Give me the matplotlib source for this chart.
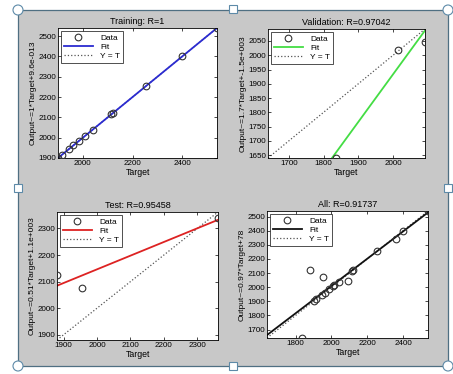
import numpy as np
import matplotlib
matplotlib.use("Agg")
import matplotlib.pyplot as plt
import matplotlib.patches as patches

plt.rcParams['font.family'] = ['Liberation Sans', 'DejaVu Sans']

# === Dati ===
train_target = [1900, 1915, 1945, 1962, 1985, 2010, 2040, 2115, 2120, 2255, 2400, 2540]
train_output = [1900, 1915, 1945, 1962, 1985, 2010, 2040, 2115, 2120, 2255, 2400, 2540]
val_target = [1835, 2015, 2092]
val_output = [1640, 2018, 2045]
test_target = [1880, 1955, 2362]
test_output = [2125, 2075, 2340]

titles = ["Training: R=1", "Validation: R=0.97042", "Test: R=0.95458", "All: R=0.91737"]
ylabels = ["Output~=1*Target+9.6e-013", "Output~=1.7*Target+-1.5e+003",
           "Output~=0.51*Target+1.1e+003", "Output~=0.97*Target+78"]
fit_colors = ["#2b2bd0", "#44dd44", "#dd2222", "#111111"]
xticks = [[2000, 2200, 2400], [1700, 1800, 1900, 2000],
          [1900, 2000, 2100, 2200, 2300], [1800, 2000, 2200, 2400]]
yticks = [list(range(1900, 2501, 100)), list(range(1650, 2051, 50)),
          list(range(1900, 2301, 100)), list(range(1700, 2501, 100))]

all_target = train_target + val_target + test_target
all_output = train_output + val_output + test_output
sets = [(train_target, train_output), (val_target, val_output),
        (test_target, test_output), (all_target, all_output)]

W, H = 453, 374
fig = plt.figure(figsize=(W / 100, H / 100), dpi=100)
fig.patch.set_facecolor("white")

# sfondo grigio con bordo (immagine selezionata nel documento)
bg = fig.add_axes([0, 0, 1, 1])
bg.set_xlim(0, W)
bg.set_ylim(H, 0)
bg.axis("off")
bg.add_patch(patches.Rectangle((18, 10), 430, 356, facecolor="#c8c8c8",
                               edgecolor="#4f6f82", linewidth=0.9))
for (hx, hy) in [(18, 10), (448, 10), (18, 366), (448, 366)]:
    bg.add_patch(patches.Circle((hx, hy), 5, facecolor="white",
                                edgecolor="#5d8aa8", linewidth=0.8, zorder=5))
for (hx, hy) in [(233, 9), (233, 366), (18, 188), (448, 188)]:
    bg.add_patch(patches.Rectangle((hx - 4, hy - 4), 8, 8, facecolor="white",
                                   edgecolor="#5d8aa8", linewidth=0.8, zorder=5))

# posizioni in pixel: left, top, right, bottom
boxes = [(58, 28, 217, 158), (268, 29, 425, 158), (57, 212, 218, 340), (267, 211, 428, 338)]

for i, ((t, o), (l, tp, r, b)) in enumerate(zip(sets, boxes)):
    ax = fig.add_axes([l / W, (H - b) / H, (r - l) / W, (b - tp) / H])
    t = np.array(t, dtype=float)
    o = np.array(o, dtype=float)
    lims = [min(t.min(), o.min()), max(t.max(), o.max())]
    coef = np.polyfit(t, o, 1)
    ax.plot(t, o, "o", mfc="none", mec="#333333", ms=4.8, mew=0.8, label="Data", zorder=3)
    ax.plot(lims, np.polyval(coef, lims), "-", color=fit_colors[i], lw=1.3, label="Fit", zorder=2)
    ax.plot(lims, lims, ":", color="#555555", lw=0.9, label="Y = T", zorder=1)
    ax.set_xlim(lims)
    ax.set_ylim(lims)
    ax.set_xticks(xticks[i])
    ax.set_yticks(yticks[i])
    ax.tick_params(direction="in", length=2, width=0.5, labelsize=5.8, pad=1.5,
                   top=True, right=True)
    for s in ax.spines.values():
        s.set_linewidth(0.6)
    ax.set_title(titles[i], fontsize=6.5, pad=3)
    ax.set_xlabel("Target", fontsize=6.3, labelpad=0.5)
    ax.set_ylabel(ylabels[i], fontsize=6, labelpad=1)
    leg = ax.legend(loc="upper left", fontsize=6, frameon=True, fancybox=False,
                    borderpad=0.35, labelspacing=0.15, handlelength=3.4, handletextpad=0.9,
                    borderaxespad=0.4)
    leg.get_frame().set_edgecolor("black")
    leg.get_frame().set_linewidth(0.6)

fig.savefig("out.png", dpi=100, facecolor=fig.get_facecolor())
